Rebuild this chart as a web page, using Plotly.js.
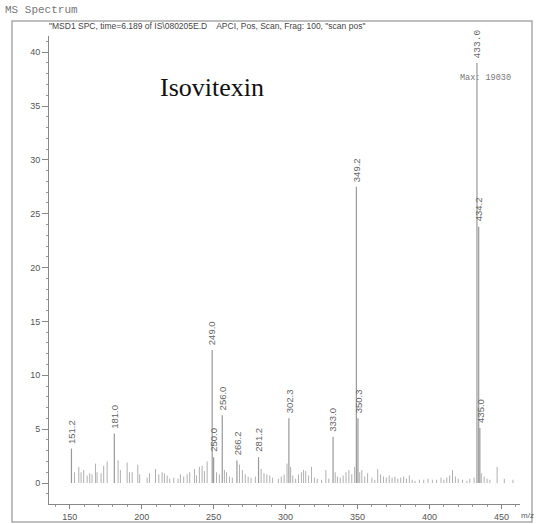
<!DOCTYPE html>
<html><head><meta charset="utf-8">
<script src="https://cdn.plot.ly/plotly-3.0.1.min.js"></script>
<style>html,body{margin:0;padding:0;background:#fff}#plot{width:536px;height:524px}</style>
</head><body><div id="plot"></div>
<script>
// Labelled peaks (m/z, abundance in scale units)
const peakMz     = [151.2, 181.0, 249.0, 250.0, 256.0, 266.2, 281.2, 302.3, 333.0, 349.2, 350.3, 433.0, 434.2, 435.0];
const peakHeight = [3.2,   4.6,   12.35, 2.4,   6.3,   2.1,   2.4,   6.0,   4.3,   27.5,  6.0,   39.0,  23.8,  5.1];
const peakLabels = ["151.2","181.0","249.0","250.0","256.0","266.2","281.2","302.3","333.0","349.2","350.3","433.0","434.2","435.0"];
// Unlabelled minor peaks
const noiseMz = [153.3,156.3,157.9,159.7,162.1,163.9,165.5,167.9,169.0,171.8,173.6,176.0,183.6,185.2,189.9,191.5,193.4,197.3,198.6,203.8,205.4,209.6,211.9,214.2,215.8,217.7,219.5,222.3,225.3,226.9,229.2,231.6,233.4,236.7,238.1,240.1,242.0,243.6,245.5,
  252,254,257.5,259,261,263,268,270,272,274,276,279,283,285,287,289,291,295,297,299,301,303.5,305,307,309,311,312.5,314,316,318,320,322,325,328,330,334.5,336,338,340,342,344,346,348,351.5,353,355,357,360,362,364,366,368,370,372,374,376,378,380,382,384,386,388,390,393,396,399,402,405,408,410,412,414,416,418,420,423,426,428,431,436,438,440,442,447,452,458];
const noiseHeight = [1.0,1.5,1.0,1.2,0.7,0.9,0.8,1.8,1.0,0.9,1.6,2.0,2.1,1.2,1.9,1.0,1.0,1.7,0.8,0.5,0.9,1.3,0.8,1.0,0.9,0.7,0.4,0.5,0.4,0.8,0.6,0.8,1.0,1.3,0.7,1.5,1.6,1.1,2.0,
  1.0,0.8,1.2,1.0,0.6,0.5,1.7,1.2,0.8,0.6,0.5,0.6,1.3,0.9,0.8,0.7,0.5,0.4,0.6,0.8,1.8,1.5,0.7,0.4,0.8,1.0,1.2,1.1,0.7,1.5,0.5,0.4,0.3,1.2,0.4,1.0,0.6,0.5,0.7,1.0,1.2,0.8,1.5,1.0,1.2,0.6,0.9,0.5,0.3,1.3,0.8,0.6,0.5,0.7,0.5,0.6,0.4,0.5,0.6,0.4,0.7,0.3,0.2,0.3,0.3,0.4,0.3,0.3,0.5,0.3,0.5,0.7,1.2,0.6,0.4,0.3,0.2,0.4,0.5,0.9,0.6,0.4,0.3,1.5,0.4,0.3];
const xTicks = [150, 200, 250, 300, 350, 400, 450];
const yTicks = [0, 5, 10, 15, 20, 25, 30, 35, 40];

function sticks(xs, ys){
  const X=[],Y=[];
  xs.forEach((m,i)=>{X.push(m,m,null);Y.push(0,ys[i],null);});
  return {x:X,y:Y};
}
const n = sticks(noiseMz, noiseHeight);
const p = sticks(peakMz, peakHeight);
const traces = [
  {type:'scatter',mode:'lines',x:n.x,y:n.y,line:{color:'#b0b0b0',width:1},hoverinfo:'skip',showlegend:false},
  {type:'scatter',mode:'lines',x:p.x,y:p.y,line:{color:'#999999',width:1.2},hoverinfo:'skip',showlegend:false}
];
const ann = peakLabels.map((t,i)=>({
  x:peakMz[i], y:peakHeight[i], xref:'x', yref:'y', text:t, showarrow:false,
  textangle:-90, xanchor:'center', yanchor:'bottom', yshift:3,
  font:{family: t==='433.0' ? 'Liberation Mono' : 'Liberation Sans', size:9.5, color:'#666'}
}));
ann.push(
  {xref:'paper',yref:'paper',x:0.346,y:0.891,xanchor:'center',yanchor:'middle',text:'Isovitexin',showarrow:false,font:{family:'Liberation Serif',size:26,color:'#111'}},
  {xref:'paper',yref:'paper',x:0.926,y:0.91,xanchor:'center',yanchor:'middle',text:'Max: 19030',showarrow:false,font:{family:'Liberation Mono',size:8.5,color:'#777'}},
  {xref:'paper',yref:'paper',x:-0.0977,y:1.0556,xanchor:'left',yanchor:'middle',text:'MS Spectrum',showarrow:false,font:{family:'Liberation Mono',size:11,color:'#777'}},
  {xref:'paper',yref:'paper',x:-0.004,y:1.0214,xanchor:'left',yanchor:'middle',text:'"MSD1 SPC, time=6.189 of IS\\080205E.D    APCI, Pos, Scan, Frag: 100, "scan pos"',showarrow:false,font:{family:'Liberation Sans',size:8.5,color:'#444'}},
  {xref:'paper',yref:'paper',x:0.998,y:-0.0256,xanchor:'left',yanchor:'middle',text:'m/z',showarrow:false,font:{family:'Liberation Sans',size:8,color:'#555'}}
);
const layout = {
  width:536,height:524,
  margin:{l:49,r:16,t:36,b:20},
  paper_bgcolor:'#fff',plot_bgcolor:'#fff',
  showlegend:false,
  xaxis:{range:[135.6,462.9],tickvals:xTicks,showgrid:false,zeroline:false,showline:true,linecolor:'#888',linewidth:1,
    ticks:'outside',ticklen:4,tickcolor:'#888',tickfont:{family:'Liberation Sans',size:9,color:'#555'},
    minor:{dtick:10,ticks:'outside',ticklen:2,tickcolor:'#999',showgrid:false}},
  yaxis:{range:[-1.95,41.5],tickvals:yTicks,showgrid:false,zeroline:false,showline:true,linecolor:'#888',linewidth:1,
    ticks:'outside',ticklen:6,tickcolor:'#888',tickfont:{family:'Liberation Sans',size:9,color:'#555'},
    minor:{dtick:1,ticks:'outside',ticklen:2,tickcolor:'#999',showgrid:false}},
  annotations:ann,
  shapes:[
    {type:'rect',xref:'paper',yref:'paper',x0:-0.0786,x1:1.0255,y0:-0.0385,y1:1.032,line:{color:'#aaa',width:1.5},fillcolor:'rgba(0,0,0,0)'}
  ]
};
Plotly.newPlot('plot',traces,layout,{staticPlot:true});
</script></body></html>
